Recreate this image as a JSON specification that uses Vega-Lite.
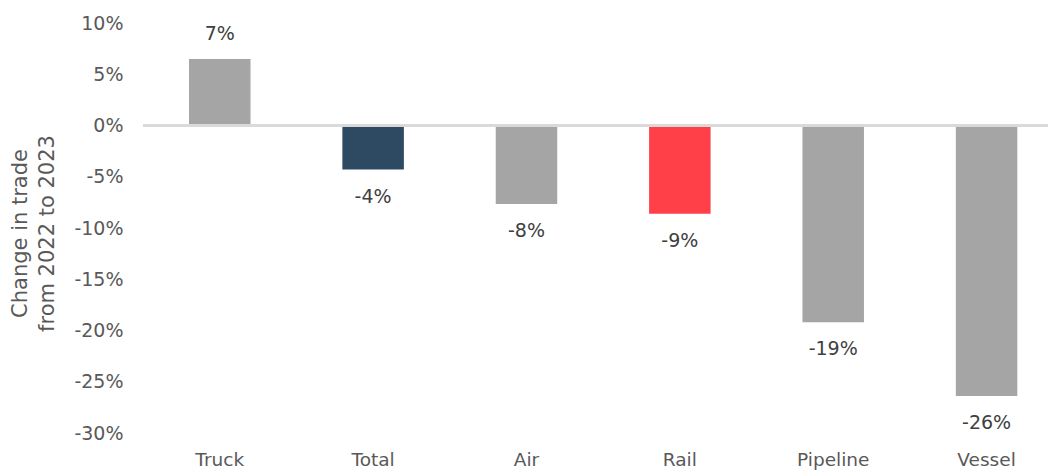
{
  "$schema": "https://vega.github.io/schema/vega-lite/v6.json",
  "width": 905,
  "height": 410,
  "autosize": {"type": "none"},
  "padding": {"left": 143, "top": 23, "right": 0, "bottom": 37},
  "background": "white",
  "config": {
    "view": {"stroke": null},
    "font": "DejaVu Sans",
    "axis": {"labelFont": "DejaVu Sans", "titleFont": "DejaVu Sans", "labelColor": "#595959", "titleColor": "#595959", "grid": false, "domain": false, "ticks": false}
  },
  "data": {
    "values": [
      {"mode": "Truck", "change": 6.5},
      {"mode": "Total", "change": -4.3},
      {"mode": "Air", "change": -7.65},
      {"mode": "Rail", "change": -8.6},
      {"mode": "Pipeline", "change": -19.2},
      {"mode": "Vessel", "change": -26.4}
    ]
  },
  "transform": [{"calculate": "round(datum.change) + '%'", "as": "label"}],
  "encoding": {
    "x": {
      "field": "mode",
      "type": "nominal",
      "sort": null,
      "scale": {"paddingInner": 0.599, "paddingOuter": 0.25, "align": 0.6},
      "axis": {"title": null, "labelAngle": 0, "labelFontSize": 18.5, "labelPadding": 17, "orient": "bottom"}
    },
    "y": {
      "field": "change",
      "type": "quantitative",
      "scale": {"domain": [-30, 10], "nice": false, "zero": false},
      "axis": {
        "values": [-30, -25, -20, -15, -10, -5, 0, 5, 10],
        "labelExpr": "datum.value + '%'",
        "labelFontSize": 19,
        "labelPadding": 20,
        "title": ["Change in trade", "from 2022 to 2023"],
        "titleFontSize": 21,
        "titleFontWeight": "normal",
        "titleX": -123,
        "titleY": 210,
        "titleBaseline": "middle",
        "titleLineHeight": 27
      }
    }
  },
  "layer": [
    {
      "mark": {"type": "bar"},
      "encoding": {
        "y2": {"datum": 0},
        "color": {
          "field": "mode",
          "type": "nominal",
          "scale": {
            "domain": ["Truck", "Total", "Air", "Rail", "Pipeline", "Vessel"],
            "range": ["#A5A5A5", "#2E4A62", "#A5A5A5", "#FF4049", "#A5A5A5", "#A5A5A5"]
          },
          "legend": null
        }
      }
    },
    {
      "mark": {"type": "rule", "color": "#D9D9D9", "strokeWidth": 2},
      "encoding": {"y": {"datum": 0}, "x": null}
    },
    {
      "transform": [{"filter": "datum.change >= 0"}],
      "mark": {"type": "text", "dy": -25, "fontSize": 19, "color": "#404040", "baseline": "middle"},
      "encoding": {"text": {"field": "label", "type": "nominal"}}
    },
    {
      "transform": [{"filter": "datum.change < 0"}],
      "mark": {"type": "text", "dy": 27, "fontSize": 19, "color": "#404040", "baseline": "middle"},
      "encoding": {"text": {"field": "label", "type": "nominal"}}
    }
  ]
}
